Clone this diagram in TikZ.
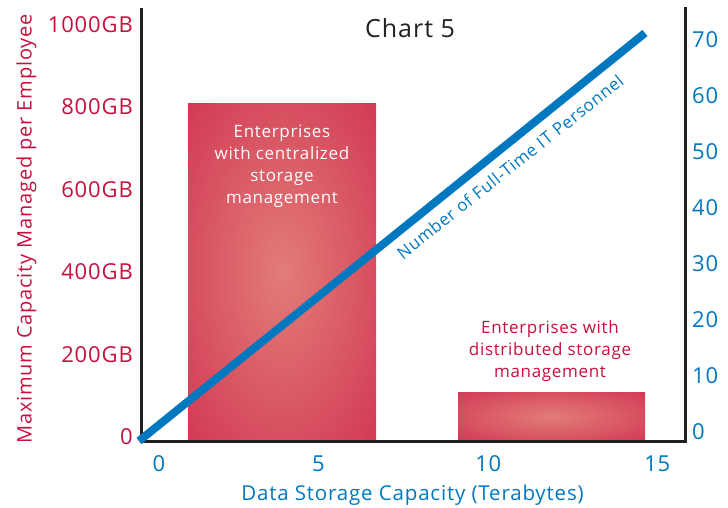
\documentclass[tikz,border=0pt]{standalone}
\usepackage{fontspec}
\setmainfont{Open Sans}[LetterSpace=4]
\definecolor{crim}{RGB}{200,16,62}
\definecolor{pinkc}{RGB}{226,124,120}
\definecolor{bluec}{RGB}{0,120,192}
\definecolor{axisc}{RGB}{35,31,32}
\pgfdeclareradialshading{barshade}{\pgfpoint{0bp}{0bp}}{color(0bp)=(pinkc); color(58bp)=(crim); color(75bp)=(crim)}
\tikzset{
  bar/.style={rectangle, draw=none, shading=barshade, inner sep=0pt},
  axisline/.style={draw=axisc, line width=3pt, line join=miter},
  trend/.style={draw=bluec, line width=8pt},
  ylab/.style={text=crim, font=\fontsize{22}{26}\selectfont, inner sep=0pt, anchor=base east},
  rlab/.style={text=bluec, font=\fontsize{22}{26}\selectfont, inner sep=0pt, anchor=base west},
  xlab/.style={text=bluec, font=\fontsize{22}{26}\selectfont, inner sep=0pt, anchor=base},
  bartext/.style={align=center, inner sep=0pt, font=\fontsize{17}{22}\selectfont},
}
\begin{document}
\begin{tikzpicture}[x=1pt, y=-1pt]
\useasboundingbox (0,0) rectangle (728,508);
% bars
\node[bar, minimum width=188pt, minimum height=337pt] (bigbar) at (282,272.5) {};
\node[bar, minimum width=187pt, minimum height=49pt] (smallbar) at (551.5,416.5) {};
% axes
\coordinate (tl) at (141.5,8);
\coordinate (o) at (141.5,441.5);
\coordinate (br) at (685.5,441.5);
\coordinate (tr) at (685.5,7);
\draw[axisline] (tl) -- (o) -- (br) -- (tr);
% trend line
\coordinate (ls) at (139,441);
\coordinate (le) at (645,33);
\draw[trend] (ls) -- (le);
\node[text=bluec, font=\fontsize{17}{20}\selectfont, rotate=38.5, inner sep=0pt] (trendlab) at (510,167) {Number of Full-Time IT Personnel};
% title
\node[text=axisc, font=\fontsize{25}{30}\selectfont, anchor=base, inner sep=0pt] (title) at (410,38) {Chart 5};
% bar texts
\node[bartext, text=white] (bigtext) at (282,166) {Enterprises\\with centralized\\storage\\management};
\node[bartext, text=crim] (smalltext) at (550,351) {Enterprises with\\distributed storage\\management};
% left labels
\foreach \v [count=\k from 0] in {0,200GB,400GB,600GB,800GB,1000GB}
  \node[ylab] (yl\k) at (133,444.8-82.5*\k) {\v};
% right labels
\foreach \k in {0,...,7}
  \node[rlab] (yr\k) at (692,439.5-56*\k) {\pgfmathparse{int(10*\k)}\pgfmathresult};
% bottom labels
\node[xlab] (x0) at (159,471.5) {0};
\node[xlab] (x5) at (318.5,471.5) {5};
\node[xlab] (x10) at (488.3,471.5) {10};
\node[xlab] (x15) at (657.3,471.5) {15};
% axis titles
\node[text=bluec, font=\fontsize{20.5}{24}\selectfont, anchor=base, inner sep=0pt] (xtitle) at (412.5,500.5) {Data Storage Capacity (Terabytes)};
\node[text=crim, font=\fontsize{20}{24}\selectfont, anchor=base, rotate=90, inner sep=0pt] (ytitle) at (31.7,229) {Maximum Capacity Managed per Employee};
\end{tikzpicture}
\end{document}
